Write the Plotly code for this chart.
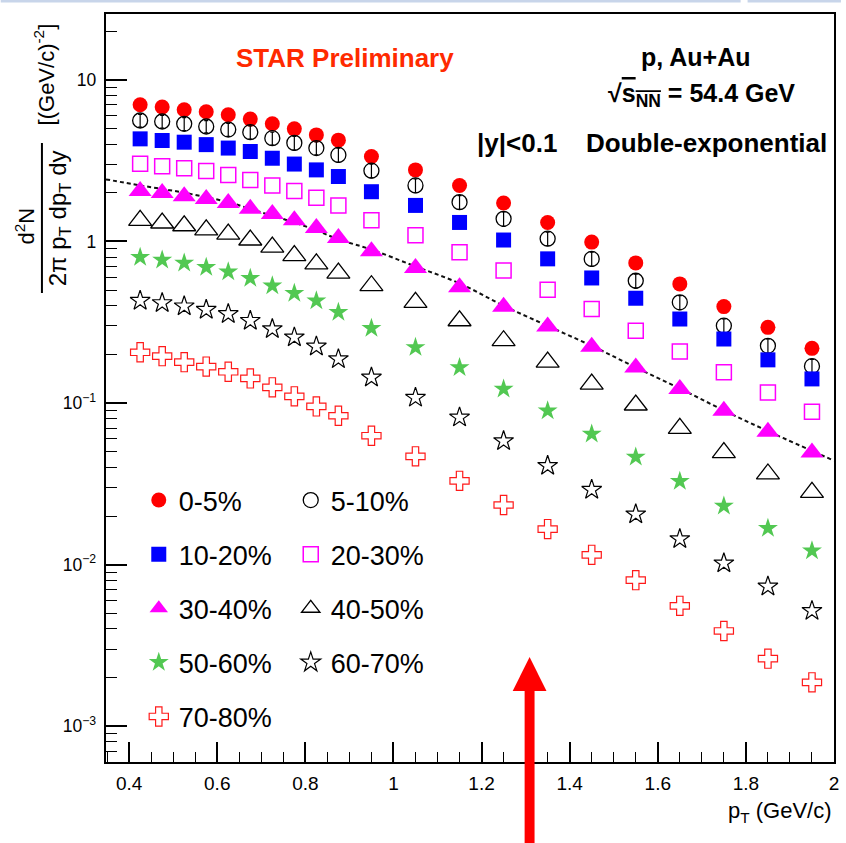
import plotly.graph_objects as go

# Proton pT spectra, Au+Au at sqrt(s_NN) = 54.4 GeV, |y| < 0.1
pt = [0.425, 0.475, 0.525, 0.575, 0.625, 0.675, 0.725, 0.775, 0.825, 0.875,
      0.95, 1.05, 1.15, 1.25, 1.35, 1.45, 1.55, 1.65, 1.75, 1.85, 1.95]

c0_5 = [7.0, 6.78, 6.52, 6.34, 6.07, 5.71, 5.34, 4.97, 4.56, 4.23, 3.35, 2.77,
        2.22, 1.73, 1.31, 0.99, 0.736, 0.546, 0.395, 0.294, 0.218]
c5_10 = [5.60, 5.52, 5.34, 5.14, 4.92, 4.74, 4.35, 4.07, 3.78, 3.43, 2.74, 2.22,
         1.75, 1.38, 1.04, 0.779, 0.571, 0.420, 0.301, 0.226, 0.169]
c10_20 = [4.31, 4.21, 4.11, 3.97, 3.78, 3.60, 3.27, 3.01, 2.77, 2.52, 2.03, 1.67,
          1.31, 1.02, 0.78, 0.594, 0.445, 0.331, 0.249, 0.185, 0.141]
c20_30 = [3.02, 2.92, 2.84, 2.73, 2.58, 2.40, 2.22, 2.05, 1.86, 1.67, 1.35, 1.09,
          0.857, 0.660, 0.503, 0.382, 0.280, 0.208, 0.155, 0.116, 0.0883]
c30_40 = [2.05, 1.99, 1.90, 1.83, 1.73, 1.59, 1.48, 1.35, 1.21, 1.05, 0.869, 0.685,
          0.520, 0.394, 0.297, 0.223, 0.166, 0.122, 0.0896, 0.0664, 0.0495]
c40_50 = [1.35, 1.30, 1.25, 1.18, 1.11, 1.02, 0.921, 0.817, 0.726, 0.636, 0.532, 0.420,
          0.323, 0.243, 0.179, 0.131, 0.0972, 0.0697, 0.0493, 0.0364, 0.0280]
c50_60 = [0.798, 0.768, 0.736, 0.692, 0.650, 0.592, 0.532, 0.478, 0.430, 0.364, 0.290,
          0.221, 0.166, 0.122, 0.0896, 0.0643, 0.0463, 0.0328, 0.0231, 0.0168, 0.0122]
c60_70 = [0.430, 0.416, 0.397, 0.378, 0.356, 0.323, 0.287, 0.255, 0.224, 0.187, 0.144,
          0.108, 0.0815, 0.0582, 0.0409, 0.0291, 0.0205, 0.0144, 0.0102, 0.00733, 0.00518]
c70_80 = [0.206, 0.195, 0.179, 0.168, 0.156, 0.142, 0.125, 0.110, 0.0953, 0.0834, 0.0628,
          0.0468, 0.0330, 0.0234, 0.0166, 0.0115, 0.00802, 0.00556, 0.00389, 0.00262, 0.00187]

# statistical errors for the 5-10% class
err5_10 = [0.50, 0.50, 0.50, 0.45, 0.45, 0.45, 0.40, 0.40, 0.35, 0.35, 0.27, 0.22,
           0.17, 0.14, 0.10, 0.078, 0.057, 0.042, 0.030, 0.023, 0.017]

# double-exponential fit to the 30-40% class
fit_pt = [0.3475, 0.425, 0.525, 0.625, 0.675, 0.725, 0.775, 0.825, 0.875, 0.95, 1.05,
          1.15, 1.25, 1.35, 1.45, 1.55, 1.65, 1.75, 1.85, 1.95, 2.0]
fit_val = [2.42, 2.22, 2.00, 1.75, 1.59, 1.44, 1.31, 1.17, 1.03, 0.89, 0.70,
           0.55, 0.40, 0.30, 0.226, 0.166, 0.123, 0.090, 0.067, 0.0506, 0.044]

x_ticks = [0.4, 0.6, 0.8, 1.0, 1.2, 1.4, 1.6, 1.8, 2.0]
x_tick_text = ["0.4", "0.6", "0.8", "1", "1.2", "1.4", "1.6", "1.8", "2"]

FONT = "Liberation Sans, Arial, Helvetica, sans-serif"
W, H = 846, 843
ML, MR, MT, MB = 106, 7, 14, 81


def px(x):
    return (x - ML) / (W - ML - MR)


def py(y):
    return (H - MB - y) / (H - MT - MB)


GREEN = "#52c852"

series = [
    ("0-5%", c0_5, dict(symbol="circle", size=15, color="#ff0000"), "legend"),
    ("5-10%", c5_10, dict(symbol="circle-open", size=15, color="#000000",
                          line=dict(width=1.3)), "legend2"),
    ("10-20%", c10_20, dict(symbol="square", size=15, color="#0000ff"), "legend"),
    ("20-30%", c20_30, dict(symbol="square-open", size=15, color="#ff00ff",
                            line=dict(width=1.5)), "legend2"),
    ("30-40%", c30_40, dict(symbol="triangle-up", size=20, color="#ff00ff"), "legend"),
    ("40-50%", c40_50, dict(symbol="triangle-up-open", size=20, color="#000000",
                            line=dict(width=1.3)), "legend2"),
    ("50-60%", c50_60, dict(symbol="star", size=15, color=GREEN), "legend"),
    ("60-70%", c60_70, dict(symbol="star-open", size=15, color="#000000",
                            line=dict(width=1.2)), "legend2"),
    ("70-80%", c70_80, dict(symbol="cross-open", size=16, color="#ff1a1a",
                            line=dict(width=1.2)), "legend"),
]

fig = go.Figure()

fig.add_trace(go.Scatter(
    x=fit_pt, y=fit_val, mode="lines", showlegend=False, hoverinfo="skip",
    line=dict(color="#111111", width=2, dash="4px,3px", shape="spline"),
))

for name, vals, marker, leg in series:
    kw = {}
    if name == "5-10%":
        kw["error_y"] = dict(type="data", array=err5_10, visible=True,
                             color="#000000", thickness=1.2, width=2)
    fig.add_trace(go.Scatter(
        x=pt, y=vals, mode="markers", name=name, marker=marker,
        legend=leg, legendgroup=name, **kw,
    ))

legend_common = dict(
    font=dict(family=FONT, size=27, color="#000000"),
    bgcolor="rgba(0,0,0,0)", borderwidth=0,
    tracegroupgap=16, itemsizing="trace",
    xanchor="left", yanchor="top",
)

HEAD = 26
annotations = [
    dict(text="<b>STAR Preliminary</b>", x=px(347), y=py(58),
         font=dict(size=HEAD, color="#ff2a00")),
    dict(text="<b>p, Au+Au</b>", x=px(700), y=py(57),
         font=dict(size=HEAD - 1, color="#000000")),
    dict(text="<b>\u221a<span style='text-decoration:overline'>s<sub>NN</sub></span> = 54.4 GeV</b>",
         x=px(706), y=py(95), font=dict(size=HEAD - 1, color="#000000")),
    dict(text="<b>|y|<0.1</b>", x=px(520), y=py(143),
         font=dict(size=HEAD, color="#000000")),
    dict(text="<b>Double-exponential</b>", x=px(711), y=py(143),
         font=dict(size=HEAD, color="#000000")),
    # y-axis title as a fraction with units
    dict(text="d<sup>2</sup>N", x=px(24), y=py(226), textangle=-90,
         font=dict(size=22, color="#000000")),
    dict(text="2\u03c0 p<sub>T</sub> dp<sub>T</sub> dy", x=px(60), y=py(218), textangle=-90,
         font=dict(size=24, color="#000000")),
    dict(text="[(GeV/c)<sup>-2</sup>]", x=px(44), y=py(74), textangle=-90,
         font=dict(size=22, color="#000000")),
    # x-axis title, right-aligned below the tick labels
    dict(text="p<sub>T</sub> (GeV/c)", x=px(839), y=py(812), xanchor="right",
         font=dict(size=22, color="#000000")),
]
for a in annotations:
    a.setdefault("xref", "paper")
    a.setdefault("yref", "paper")
    a.setdefault("showarrow", False)
    a.setdefault("xanchor", "center")
    a.setdefault("yanchor", "middle")
    a["font"]["family"] = FONT

# red arrow below the axis, pointing up
arrow_head = "M {:.5f} {:.5f} L {:.5f} {:.5f} L {:.5f} {:.5f} Z".format(
    px(515.5), py(691), px(549.5), py(691), px(532.5), py(657))

shapes = [
    dict(type="line", xref="paper", yref="paper", x0=px(41.5), x1=px(41.5),
         y0=py(143), y1=py(293), line=dict(color="#000000", width=2)),
    dict(type="rect", xref="paper", yref="paper", x0=px(527.5), x1=px(537.5),
         y0=py(690), y1=py(850), fillcolor="#ff0000", line=dict(width=0), layer="above"),
    dict(type="path", xref="paper", yref="paper", path=arrow_head,
         fillcolor="#ff0000", line=dict(width=0), layer="above"),
    dict(type="line", xref="paper", yref="paper", x0=px(0), x1=px(745),
         y0=py(1), y1=py(1), line=dict(color="#c8d5ea", width=3)),
    dict(type="line", xref="paper", yref="paper", x0=px(752), x1=px(846),
         y0=py(1), y1=py(1), line=dict(color="#c8d5ea", width=3)),
]

fig.update_layout(
    width=W, height=H,
    margin=dict(l=ML, r=MR, t=MT, b=MB, pad=0),
    paper_bgcolor="white", plot_bgcolor="white",
    font=dict(family=FONT, color="#000000"),
    legend=dict(x=px(139), y=py(476), **legend_common),
    legend2=dict(x=px(292), y=py(476), **legend_common),
    annotations=annotations,
    shapes=shapes,
    xaxis=dict(
        range=[0.3475, 2.0], showgrid=False, zeroline=False,
        showline=True, mirror=True, linecolor="#000000", linewidth=2,
        ticks="inside", ticklen=20, tickwidth=1.5, tickcolor="#000000",
        tickvals=x_ticks, ticktext=x_tick_text,
        tickfont=dict(family=FONT, size=19, color="#000000"),
        ticklabelstandoff=3,
        minor=dict(ticks="inside", ticklen=10, tickwidth=1.2, tickcolor="#000000",
                   tick0=0.4, dtick=0.05, showgrid=False),
    ),
    yaxis=dict(
        type="log", range=[-3.221, 1.407], showgrid=False, zeroline=False,
        showline=True, mirror=True, linecolor="#000000", linewidth=2,
        ticks="inside", ticklen=21, tickwidth=1.5, tickcolor="#000000",
        dtick=1, exponentformat="power",
        tickfont=dict(family=FONT, size=14, color="#000000"),
        ticklabelstandoff=5,
        minor=dict(ticks="inside", ticklen=11, tickwidth=1.2, tickcolor="#000000",
                   dtick="D1", showgrid=False),
    ),
)

fig.write_html("out.html")
